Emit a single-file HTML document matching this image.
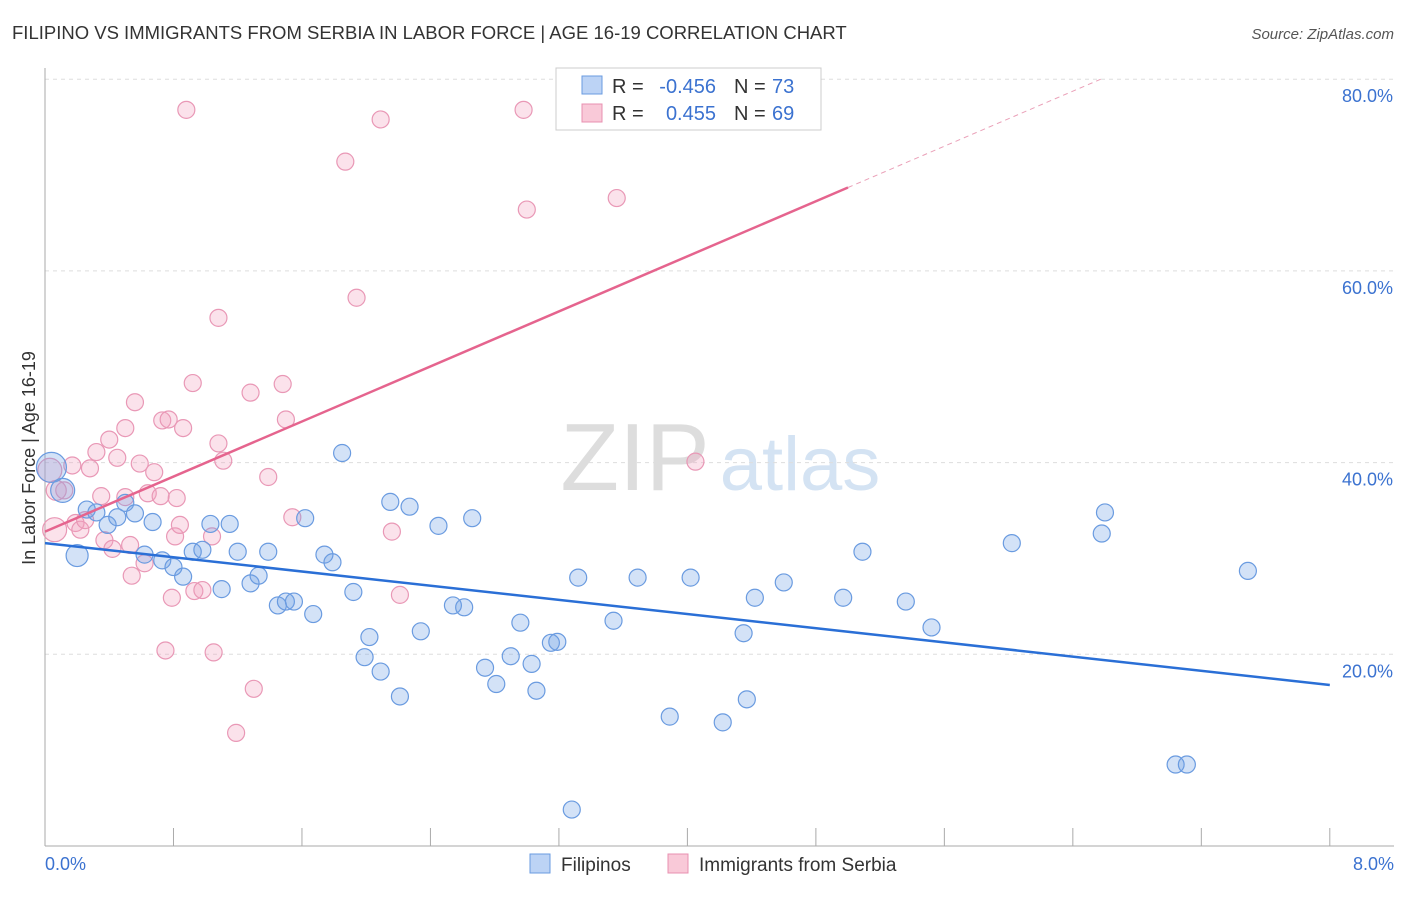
<!DOCTYPE html>
<html><head><meta charset="utf-8"><style>
body{margin:0;background:#fff;font-family:"Liberation Sans",sans-serif}
svg text{font-family:"Liberation Sans",sans-serif}
</style></head><body>
<svg id="c" width="1406" height="892" xmlns="http://www.w3.org/2000/svg">
<text x="12" y="39" font-size="18.5" fill="#333">FILIPINO VS IMMIGRANTS FROM SERBIA IN LABOR FORCE | AGE 16-19 CORRELATION CHART</text>
<text x="1394" y="39" font-size="15" fill="#555" font-style="italic" text-anchor="end">Source: ZipAtlas.com</text>
<text x="35" y="458" font-size="18" fill="#333" text-anchor="middle" transform="rotate(-90 35 458)">In Labor Force | Age 16-19</text>
<g><text x="635" y="490" font-size="96" fill="#ddd" font-family="Liberation Serif" text-anchor="middle">ZIP</text><text x="800" y="490" font-size="76" fill="#d4e3f3" text-anchor="middle">atlas</text></g>
<g id="grid"></g><g id="marks"></g><g id="lines"></g>
<g>
<rect x="556" y="68" width="265" height="62" fill="#fff" stroke="#ccc"/>
<rect x="582" y="76" width="20" height="18" fill="#bcd3f5" stroke="#6a9be0"/>
<rect x="582" y="104" width="20" height="18" fill="#f9c9d8" stroke="#e890b0"/>
<text x="612" y="93" font-size="20" fill="#333">R =</text>
<text x="716" y="93" font-size="20" fill="#3b72d0" text-anchor="end">-0.456</text>
<text x="734" y="93" font-size="20" fill="#333">N =</text>
<text x="772" y="93" font-size="20" fill="#3b72d0">73</text>
<text x="612" y="120" font-size="20" fill="#333">R =</text>
<text x="716" y="120" font-size="20" fill="#3b72d0" text-anchor="end">0.455</text>
<text x="734" y="120" font-size="20" fill="#333">N =</text>
<text x="772" y="120" font-size="20" fill="#3b72d0">69</text>
</g>
<g>
<rect x="530" y="854" width="20" height="19" fill="#bcd3f5" stroke="#6a9be0"/>
<text x="561" y="871" font-size="19" fill="#333">Filipinos</text>
<rect x="668" y="854" width="20" height="19" fill="#f9c9d8" stroke="#e890b0"/>
<text x="699" y="871" font-size="19" fill="#333">Immigrants from Serbia</text>
</g>
</svg>
<script>
const yTicks=[20,40,60,80];
const blueX=[0.04,0.11,0.20,0.26,0.32,0.39,0.45,0.50,0.56,0.67,0.62,0.73,0.80,0.86,0.92,0.98,1.10,1.03,1.15,1.20,1.28,1.33,1.39,1.45,1.50,1.55,1.62,1.67,1.74,1.79,1.85,1.92,1.99,2.02,2.09,2.15,2.21,2.27,2.34,2.45,2.54,2.61,2.66,2.74,2.81,2.90,2.96,3.03,3.06,3.15,3.19,3.28,3.32,3.54,3.69,3.89,4.02,4.22,4.35,4.37,4.42,4.60,4.97,5.09,5.36,5.52,6.02,6.58,6.60,7.04,7.11,7.49];
const blueY=[39.5,37.1,30.3,35.1,34.8,33.5,34.3,35.8,34.7,33.8,30.4,29.8,29.1,28.1,30.7,30.9,26.8,33.6,33.6,30.7,27.4,28.2,30.7,25.1,25.5,25.5,34.2,24.2,30.4,29.6,41.0,26.5,19.7,21.8,18.2,35.9,15.6,35.4,22.4,33.4,25.1,24.9,34.2,18.6,16.9,19.8,23.3,19.0,16.2,21.2,21.3,3.8,28.0,23.5,28.0,13.5,28.0,12.9,22.2,15.3,25.9,27.5,25.9,30.7,25.5,22.8,31.6,32.6,34.8,8.5,8.5,28.7];
const blueR=[15,12,11];
const pinkX=[0.03,0.07,0.06,0.12,0.17,0.19,0.22,0.25,0.28,0.32,0.35,0.37,0.40,0.42,0.45,0.50,0.50,0.54,0.56,0.59,0.62,0.64,0.68,0.72,0.73,0.77,0.79,0.81,0.82,0.84,0.86,0.88,0.92,0.93,0.98,1.04,1.05,1.08,1.08,1.11,1.19,1.28,1.30,1.39,1.48,1.50,1.54,1.87,1.94,2.09,2.16,2.21,2.98,3.00,3.56,4.05,0.75,0.53];
const pinkY=[39.2,37.1,33.0,37.1,39.7,33.7,33.0,34.0,39.4,41.1,36.5,31.9,42.4,31.0,40.5,36.4,43.6,28.2,46.3,39.9,29.5,36.8,39.0,36.5,44.4,44.5,25.9,32.3,36.3,33.5,43.6,76.8,48.3,26.6,26.7,32.3,20.2,55.1,42.0,40.2,11.8,47.3,16.4,38.5,48.2,44.5,34.3,71.4,57.2,75.8,32.8,26.2,76.8,66.4,67.6,40.1,20.4,31.4];
const pinkR=[12,10,12];
const blueTrend=[31.6,16.8];
const pinkTrend=[32.8,68.7,5.0];
const X=v=>45+v*160.6, Y=v=>846-v*9.585;
const NS="http://www.w3.org/2000/svg";
function mk(t,a,p){const e=document.createElementNS(NS,t);for(const k in a)e.setAttribute(k,a[k]);p.appendChild(e);return e;}
const g=document.getElementById('grid');
yTicks.forEach(t=>{
 const l=mk('line',{x1:45,x2:1394,y1:Y(t),y2:Y(t),stroke:'#ddd','stroke-dasharray':'4,4'},g);
 
 
 const tx=mk('text',{x:1393,y:Y(t)+23,'font-size':18,fill:'#3b72d0','text-anchor':'end'},g);tx.textContent=t.toFixed(1)+'%';
 
 
});
mk('line',{x1:45,x2:45,y1:68,y2:846,stroke:'#aaa'},g);
mk('line',{x1:45,x2:1394,y1:846,y2:846,stroke:'#aaa'},g);
for(let i=0;i<=10;i++){const x=X(i*0.8);mk('line',{x1:x,x2:x,y1:828,y2:846,stroke:'#aaa'},g);}
const t0=mk('text',{x:45,y:870,'font-size':18,fill:'#3b72d0'},g);t0.textContent='0.0%';


const t8=mk('text',{x:1394,y:870,'font-size':18,fill:'#3b72d0','text-anchor':'end'},g);t8.textContent='8.0%';


const m=document.getElementById('marks');
pinkX.forEach((v,i)=>{const c=mk('circle',{cx:X(v),cy:Y(pinkY[i]),r:pinkR[i]||8.5,fill:'rgba(243,160,188,0.3)',stroke:'#e998b6','stroke-width':1.2},m);
 
 });
blueX.forEach((v,i)=>{const c=mk('circle',{cx:X(v),cy:Y(blueY[i]),r:blueR[i]||8.5,fill:'rgba(110,160,230,0.3)',stroke:'#6a9be0','stroke-width':1.2},m);
 
 });
const L=document.getElementById('lines');
const bl=mk('line',{x1:X(0),y1:Y(blueTrend[0]),x2:X(8),y2:Y(blueTrend[1]),stroke:'#2a6fd6','stroke-width':2.5},L);


const pl=mk('line',{x1:X(0),y1:Y(pinkTrend[0]),x2:X(pinkTrend[2]),y2:Y(pinkTrend[1]),stroke:'#e5648e','stroke-width':2.5},L);


const slope=(pinkTrend[1]-pinkTrend[0])/pinkTrend[2];const xe=(80-pinkTrend[0])/slope;
const pd=mk('line',{x1:X(pinkTrend[2]),y1:Y(pinkTrend[1]),x2:X(xe),y2:Y(80),stroke:'#eaa0b8','stroke-width':1,'stroke-dasharray':'5,4'},L);


</script>
</body></html>
